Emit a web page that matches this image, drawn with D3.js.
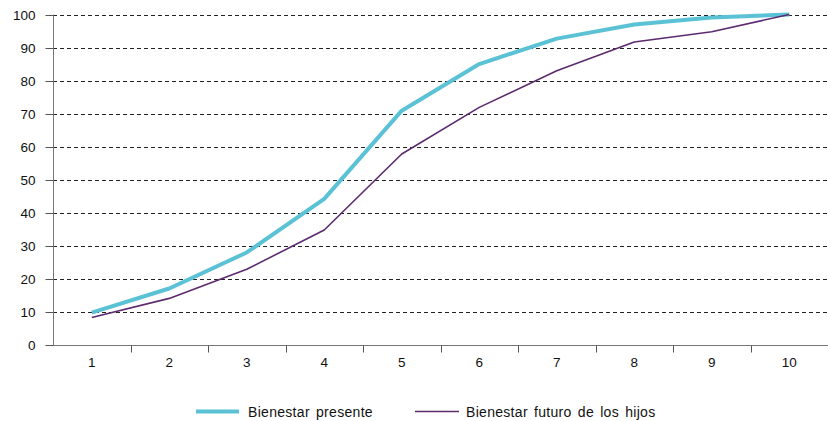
<!DOCTYPE html>
<html><head><meta charset="utf-8">
<script src="https://cdn.jsdelivr.net/npm/d3@7"></script>
<style>body{margin:0;background:#fff}svg{display:block}text{font-family:"Liberation Sans",Arial,sans-serif}</style>
</head><body>
<svg id="c" width="828" height="421"></svg>
<script>
const categories = ["1","2","3","4","5","6","7","8","9","10"];
const presente = [9.8, 17.1, 28.0, 44.2, 70.9, 85.0, 92.7, 97.0, 99.1, 100];
const futuro = [8.3, 14.1, 22.9, 34.8, 57.8, 71.9, 83.0, 91.7, 94.8, 100];
const yTicks = [0,10,20,30,40,50,60,70,80,90,100];
const seriesNames = ["Bienestar presente", "Bienestar futuro de los hijos"];
const colors = ["#5bc2d6", "#5c2a6e"];
const widths = [4, 1.6];

(function(){
const svg = d3.select("#c");
const mL = 53, mR = 828, mT = 14.5, mB = 345;
const x = d3.scaleBand().domain(categories).range([mL, mR]).padding(0);
const y = d3.scaleLinear().domain([0,100]).range([mB, mT]);

// gridlines
svg.append("g").selectAll("line").data(yTicks.filter(d=>d>0)).join("line")
  .attr("x1", mL).attr("x2", mR)
  .attr("y1", d=>Math.round(y(d))+0.5).attr("y2", d=>Math.round(y(d))+0.5)
  .attr("stroke", "#222").attr("stroke-width", 1).attr("stroke-dasharray", "4,3");

// y axis
const ya = svg.append("g").attr("transform", `translate(${mL+0.5},0)`)
  .call(d3.axisLeft(y).tickValues(yTicks).tickSize(8).tickPadding(10).tickFormat(d3.format("d")));
ya.select(".domain").attr("stroke", "#777").attr("d", `M0,${mT}V${mB}`);
ya.selectAll(".tick line").attr("stroke", "#555");
ya.selectAll(".tick text").attr("font-size", 13.5).attr("fill", "#111");
ya.selectAll(".tick").attr("transform", d=>`translate(0,${Math.round(y(d))+0.5})`);

// x axis with ticks between categories
const xa = svg.append("g").attr("transform", `translate(0,${mB+0.5})`);
xa.append("line").attr("x1", mL).attr("x2", mR).attr("stroke", "#777");
const bounds = categories.map(c=>x(c)).concat([mR]);
xa.selectAll("line.t").data(bounds.slice(1,-1)).join("line").attr("class","t")
  .attr("x1", d=>Math.round(d)+0.5).attr("x2", d=>Math.round(d)+0.5)
  .attr("y1", 0).attr("y2", 7).attr("stroke", "#555");
xa.selectAll("text").data(categories).join("text")
  .attr("x", d=>x(d)+x.bandwidth()/2).attr("y", 21.5)
  .attr("text-anchor", "middle").attr("font-size", 13.5).attr("fill", "#111").text(d=>d);

// lines
const line = d3.line().x((d,i)=>x(categories[i])+x.bandwidth()/2).y(d=>y(d));
[presente, futuro].forEach((s,i)=>{
  svg.append("path").datum(s).attr("d", line).attr("fill","none")
    .attr("stroke", colors[i]).attr("stroke-width", widths[i]).attr("stroke-linejoin","round");
});

// legend
const leg = [{x:196, w:43, tx:248},{x:415, w:44, tx:466}];
seriesNames.forEach((n,i)=>{
  svg.append("line").attr("x1", leg[i].x).attr("x2", leg[i].x+leg[i].w)
    .attr("y1", 411.5).attr("y2", 411.5).attr("stroke", colors[i]).attr("stroke-width", widths[i]);
  svg.append("text").attr("x", leg[i].tx).attr("y", 416.5).attr("font-size", 14)
    .attr("letter-spacing", 0.3).attr("word-spacing", 2).attr("fill","#111").text(n);
});
})();
</script>
</body></html>
